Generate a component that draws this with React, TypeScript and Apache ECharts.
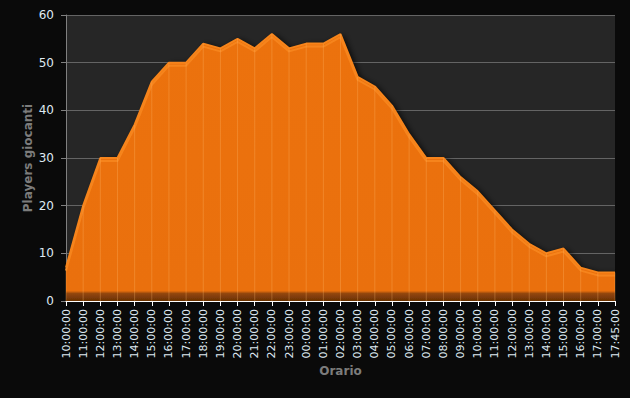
import React, { useEffect, useRef } from "react";
import * as echarts from "echarts";

const categories = [
  "10:00:00", "11:00:00", "12:00:00", "13:00:00", "14:00:00", "15:00:00", "16:00:00",
  "17:00:00", "18:00:00", "19:00:00", "20:00:00", "21:00:00", "22:00:00", "23:00:00",
  "00:00:00", "01:00:00", "02:00:00", "03:00:00", "04:00:00", "05:00:00", "06:00:00",
  "07:00:00", "08:00:00", "09:00:00", "10:00:00", "11:00:00", "12:00:00", "13:00:00",
  "14:00:00", "15:00:00", "16:00:00", "17:00:00", "17:45:00",
];
const players = [
  7, 20, 30, 30, 37, 46, 50, 50, 54, 53, 55, 53, 56, 53, 54, 54, 56,
  47, 45, 41, 35, 30, 30, 26, 23, 19, 15, 12, 10, 11, 7, 6, 6,
];
const yTicks = { min: 0, max: 60, interval: 10 };

export default function App() {
  const ref = useRef<HTMLDivElement>(null);
  useEffect(() => {
    if (!ref.current) return;
    const chart = echarts.init(ref.current, null, { renderer: "svg" });
    chart.setOption({
      animation: false,
      backgroundColor: "#0a0a0a",
      textStyle: { fontFamily: "DejaVu Sans" },
      grid: {
        left: 66,
        right: 15,
        top: 15,
        bottom: 97,
        show: true,
        backgroundColor: "#262626",
        borderWidth: 0,
      },
      xAxis: {
        type: "category",
        data: categories,
        boundaryGap: false,
        name: "Orario",
        nameLocation: "middle",
        nameGap: 64,
        nameMoveOverlap: false,
        nameTextStyle: { color: "#7c7c7c", fontWeight: "bold", fontSize: 12, fontFamily: "DejaVu Sans" },
        axisLine: { show: true, lineStyle: { color: "#ffffff", width: 1 } },
        axisTick: { show: true, length: 5, alignWithLabel: true, lineStyle: { color: "#ffffff" }, interval: 0 },
        axisLabel: {
          rotate: 90,
          interval: 0,
          color: "#dfe9f1",
          fontSize: 11,
          margin: 8,
          fontFamily: "DejaVu Sans",
        },
        splitLine: { show: false },
        z: 5,
      },
      yAxis: {
        type: "value",
        min: yTicks.min,
        max: yTicks.max,
        interval: yTicks.interval,
        name: "Players giocanti",
        nameLocation: "middle",
        nameGap: 32,
        nameMoveOverlap: false,
        nameRotate: 90,
        nameTextStyle: { color: "#7c7c7c", fontWeight: "bold", fontSize: 12, fontFamily: "DejaVu Sans" },
        axisLine: { show: true, lineStyle: { color: "#808080" } },
        axisTick: { show: true, length: 5, lineStyle: { color: "#808080" } },
        axisLabel: { color: "#dfe9f1", fontSize: 12, margin: 12, fontFamily: "DejaVu Sans" },
        splitLine: { show: true, lineStyle: { color: "#646464", width: 1 } },
      },
      series: [
        {
          type: "line",
          data: players,
          symbol: "none",
          z: 2,
          lineStyle: {
            color: "#f6841a",
            width: 2,
            shadowColor: "#f6841a",
            shadowBlur: 0,
            shadowOffsetY: 3,
          },
          areaStyle: {
            color: new echarts.graphic.LinearGradient(0, 0, 0, 1, [
              { offset: 0, color: "#ec720a" },
              { offset: 0.962, color: "#ea7009" },
              { offset: 0.972, color: "#93460a" },
              { offset: 1, color: "#6a3205" },
            ]),
            opacity: 1,
            shadowColor: "rgba(0,0,0,0.8)",
            shadowBlur: 6,
            shadowOffsetX: 3,
            shadowOffsetY: 1,
          },
        },
        {
          type: "bar",
          data: players,
          barWidth: 1,
          z: 3,
          itemStyle: { color: "rgba(255,185,110,0.3)" },
          silent: true,
        },
      ],
    });
    return () => chart.dispose();
  }, []);
  return (
    <div
      ref={ref}
      style={{ position: "fixed", left: 0, top: 0, width: 630, height: 398 }}
    />
  );
}
